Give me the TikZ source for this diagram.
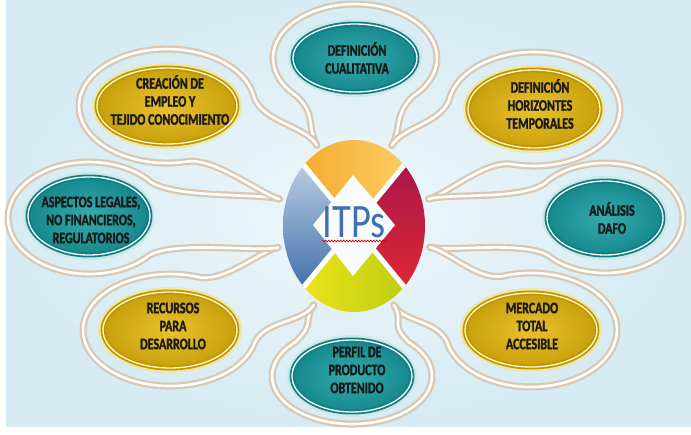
\documentclass[tikz,border=0pt]{standalone}
\usepackage{fontspec}
\setmainfont{Carlito}
\newfontfamily\satfont[FakeStretch=0.75, BoldFont={Carlito Bold},
  BoldFeatures={FakeStretch=0.75, FakeBold=1.6}]{Carlito}
\newfontfamily\hubfont[FakeStretch=0.8]{Carlito}
\usetikzlibrary{shapes.geometric,decorations.pathmorphing}
\definecolor{bgblue}{HTML}{D6EBF3}
\definecolor{bglight}{HTML}{EEF7FA}
\definecolor{tanline}{HTML}{D9C7B2}
\definecolor{tealrim}{HTML}{0F7E83}
\definecolor{tealin}{HTML}{36ACAE}
\definecolor{tealout}{HTML}{15888C}
\definecolor{tealhalo}{HTML}{CBE9EA}
\definecolor{goldrim}{HTML}{BF9700}
\definecolor{goldin}{HTML}{E8C22C}
\definecolor{goldout}{HTML}{C9A00C}
\definecolor{goldhalo}{HTML}{F0E6A8}
\definecolor{orangeA}{HTML}{F4A428}
\definecolor{orangeB}{HTML}{FDD46A}
\definecolor{redA}{HTML}{9E1550}
\definecolor{redB}{HTML}{E8292E}
\definecolor{yelA}{HTML}{F4E81A}
\definecolor{yelB}{HTML}{B5C912}
\definecolor{blueA}{HTML}{D2DEEC}
\definecolor{blueB}{HTML}{2860A0}
\definecolor{itpsblue}{HTML}{4070B2}
\begin{document}
\begin{tikzpicture}[x=1pt,y=-1pt,
  balloon/.style={draw=tanline, line width=7pt, line cap=round,
    postaction={draw=white, line width=2.6pt}},
  gap/.style={draw=white, line width=5pt},
  tealsat/.style={ellipse, shade, inner color=tealin, outer color=tealout,
    draw=tealrim, double=white, double distance=1.3pt, line width=1.8pt, inner sep=0pt},
  goldsat/.style={ellipse, shade, inner color=goldin, outer color=goldout,
    draw=goldrim, double=white!80!yellow, double distance=1.3pt, line width=1.8pt, inner sep=0pt},
  lbl/.style={font=\satfont\bfseries\fontsize{16}{18}\selectfont, align=center,
    text=black!90, inner sep=0pt},
  hubtxt/.style={font=\hubfont\fontsize{48}{48}\selectfont, text=itpsblue, inner sep=0pt},
  squiggle/.style={draw=red!85!black, line width=0.6pt, decorate,
    decoration={zigzag, amplitude=1pt, segment length=3pt}}]
\useasboundingbox (0,0) rectangle (691,434);
% background
\fill[white] (0,0) rectangle (691,434);
\shade[inner color=bglight, outer color=bgblue] (6,0) rectangle (691,426);

% balloons round the satellites
\draw[balloon] (316.8,145.2) .. controls (306.3,125.9) and (316.8,116) .. (297,96.2)
  arc[start angle=135, end angle=405, x radius=82, y radius=54]
  .. controls (393.2,116) and (402.5,126.3) .. (391.8,145.5);
\draw[balloon] (391.8,145.5) .. controls (402.5,126.3) and (443.9,123.5) .. (450.2,96.2)
  arc[start angle=193, end angle=463, x radius=86, y radius=57]
  .. controls (487.3,158.2) and (449.6,192.7) .. (428.6,199.1);
\draw[balloon] (428.6,199.1) .. controls (449.6,192.7) and (528.9,201) .. (548,180.5)
  arc[start angle=223, end angle=493, x radius=78, y radius=55]
  .. controls (531.3,239.1) and (451.3,252.3) .. (429.9,247.2);
\draw[balloon] (429.9,247.2) .. controls (451.3,252.3) and (479.8,283.2) .. (506.7,275.3)
  arc[start angle=253.6, end angle=523.6, x radius=86, y radius=57]
  .. controls (440.6,319.2) and (405,324) .. (393.8,305.1);
\draw[balloon] (393.8,305.1) .. controls (405,324) and (388.8,322.3) .. (408.6,342.1)
  arc[start angle=315, end angle=585, x radius=80, y radius=48]
  .. controls (315.2,322.3) and (302.5,323.8) .. (313.8,304.9);
\draw[balloon] (313.8,304.9) .. controls (302.5,323.8) and (261.4,319.6) .. (253.2,346.4)
  arc[start angle=17, end angle=287, x radius=87, y radius=56]
  .. controls (222.2,284.6) and (256.8,252.6) .. (278.2,247.5);
\draw[balloon] (278.2,247.5) .. controls (256.8,252.6) and (165.4,238.8) .. (145.3,258.3)
  arc[start angle=46, end angle=316, x radius=81, y radius=56]
  .. controls (166.8,199.2) and (258.4,192.7) .. (279.4,199.1);
\draw[balloon] (279.4,199.1) .. controls (258.4,192.7) and (212.7,156) .. (185.3,161.8)
  arc[start angle=78, end angle=348, x radius=88, y radius=57]
  .. controls (258.9,121.5) and (306.3,125.9) .. (316.8,145.2);

% hub ring
\begin{scope}
\clip (354,226) ellipse[x radius=71, y radius=86];
\shade[left color=orangeA, right color=orangeB] (354,226) -- (283,140) -- (425,140) -- cycle;
\shade[top color=redA, bottom color=redB] (354,226) -- (425,140) -- (425,312) -- cycle;
\shade[left color=yelA, right color=yelB] (354,226) -- (425,312) -- (283,312) -- cycle;
\shade[top color=blueA, bottom color=blueB] (354,226) -- (283,312) -- (283,140) -- cycle;
\draw[gap] (354,226) -- (283,140);
\draw[gap] (354,226) -- (425,140);
\draw[gap] (354,226) -- (425,312);
\draw[gap] (354,226) -- (283,312);
\fill[white!60!bglight] (353,175) -- (395,225) -- (353,276) -- (313,225) -- cycle;
\end{scope}
\node[hubtxt, anchor=base] (itps) at (354,237) {ITPs};
\draw[squiggle] (322,241) -- (387,241);

% satellites
\fill[tealhalo] (355,58) ellipse[x radius=67, y radius=39];
\node[tealsat, minimum width=124pt, minimum height=68pt] (defcual) at (355,58) {};
\node[lbl] (defcual-t) at (357,58) {DEFINICIÓN\\CUALITATIVA};

\fill[goldhalo] (167,106) ellipse[x radius=75, y radius=43];
\node[goldsat, minimum width=140pt, minimum height=76pt] (creacion) at (167,106) {};
\node[lbl] (creacion-t) at (170,100) {CREACIÓN DE\\EMPLEO Y\\TEJIDO CONOCIMIENTO};

\fill[goldhalo] (534,109) ellipse[x radius=71, y radius=44];
\node[goldsat, minimum width=132pt, minimum height=78pt] (horiz) at (534,109) {};
\node[lbl] (horiz-t) at (540,104) {DEFINICIÓN\\HORIZONTES\\TEMPORALES};

\fill[tealhalo] (89,216) ellipse[x radius=66, y radius=44];
\node[tealsat, minimum width=122pt, minimum height=78pt] (aspectos) at (89,216) {};
\node[lbl] (aspectos-t) at (91,220) {ASPECTOS LEGALES,\\NO FINANCIEROS,\\REGULATORIOS};

\fill[tealhalo] (605,218) ellipse[x radius=63, y radius=42];
\node[tealsat, minimum width=116pt, minimum height=74pt] (dafo) at (605,218) {};
\node[lbl] (dafo-t) at (612,218) {ANÁLISIS\\DAFO};

\fill[goldhalo] (170,330) ellipse[x radius=72, y radius=43];
\node[goldsat, minimum width=134pt, minimum height=76pt] (recursos) at (170,330) {};
\node[lbl] (recursos-t) at (173,326) {RECURSOS\\PARA\\DESARROLLO};

\fill[tealhalo] (352,376) ellipse[x radius=65, y radius=41];
\node[tealsat, minimum width=120pt, minimum height=72pt] (perfil) at (352,376) {};
\node[lbl] (perfil-t) at (357,370) {PERFIL DE\\PRODUCTO\\OBTENIDO};

\fill[goldhalo] (531,330) ellipse[x radius=71, y radius=42];
\node[goldsat, minimum width=132pt, minimum height=74pt] (mercado) at (531,330) {};
\node[lbl] (mercado-t) at (532,326) {MERCADO\\TOTAL\\ACCESIBLE};
\end{tikzpicture}
\end{document}
